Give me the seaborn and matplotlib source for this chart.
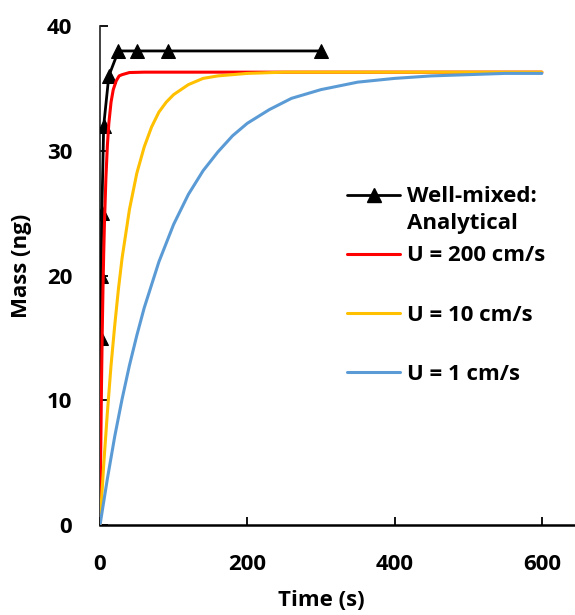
import matplotlib
matplotlib.use("Agg")
import matplotlib.pyplot as plt
import seaborn as sns
import pandas as pd
from matplotlib.lines import Line2D

# ---- data ----
t_wm = [0, 1, 1.5, 2.5, 5, 12, 25, 50, 93, 300]
m_wm = [0, 15, 20, 25, 32, 36, 38, 38, 38, 38]

t_u200 = [0, 1, 2, 3, 4, 5, 6, 8, 10, 12, 15, 18, 22, 26, 30, 40, 60, 100, 200, 300, 400, 500, 600]
m_u200 = [0, 6.0, 11.1, 15.3, 18.8, 21.7, 24.1, 27.8, 30.4, 32.2, 33.9, 34.9, 35.6, 36.0, 36.1,
          36.27, 36.3, 36.3, 36.3, 36.3, 36.3, 36.3, 36.3]

t_u10 = [0, 5, 10, 15, 20, 25, 30, 40, 50, 60, 70, 80, 90, 100, 120, 140, 160, 180, 200, 250,
         300, 400, 500, 600]
m_u10 = [0, 4.8, 9.0, 12.8, 16.0, 18.9, 21.4, 25.3, 28.2, 30.3, 31.9, 33.1, 33.9, 34.5, 35.3,
         35.8, 36.0, 36.1, 36.2, 36.3, 36.3, 36.3, 36.3, 36.3]

t_u1 = [0, 10, 20, 30, 40, 50, 60, 80, 100, 120, 140, 160, 180, 200, 230, 260, 300, 350, 400,
        450, 500, 550, 600]
m_u1 = [0, 3.7, 7.1, 10.1, 12.8, 15.2, 17.4, 21.1, 24.1, 26.5, 28.4, 29.9, 31.2, 32.2, 33.3,
        34.2, 34.9, 35.5, 35.8, 36.0, 36.1, 36.2, 36.2]

x_ticks = [0, 200, 400, 600]
y_ticks = [0, 10, 20, 30, 40]
labels = ["Well-mixed:", "Analytical", "U = 200 cm/s", "U = 10 cm/s", "U = 1 cm/s"]

# ---- style ----
sns.set_theme(style="ticks")
plt.rcParams["font.family"] = ["Open Sans", "DejaVu Sans"]
plt.rcParams["font.weight"] = "bold"
FS = 16

fig = plt.figure(figsize=(5.75, 6.15), dpi=100)
ax = fig.add_axes([100 / 575, 90 / 615, 475 / 575, 499 / 615])

df_wm = pd.DataFrame({"t": t_wm, "m": m_wm})
df_200 = pd.DataFrame({"t": t_u200, "m": m_u200})
df_10 = pd.DataFrame({"t": t_u10, "m": m_u10})
df_1 = pd.DataFrame({"t": t_u1, "m": m_u1})

sns.lineplot(data=df_wm, x="t", y="m", ax=ax, color="black", lw=2.0, marker="^",
             markersize=10.5, markeredgecolor="black", markevery=list(range(1, len(t_wm))),
             estimator=None, sort=False, zorder=3)
sns.lineplot(data=df_200, x="t", y="m", ax=ax, color="#FF0000", lw=2.2, estimator=None, zorder=4)
sns.lineplot(data=df_10, x="t", y="m", ax=ax, color="#FFC000", lw=2.2, estimator=None, zorder=5)
sns.lineplot(data=df_1, x="t", y="m", ax=ax, color="#5B9BD5", lw=2.2, estimator=None, zorder=6)

ax.set_xlim(0, 645)
ax.set_ylim(0, 40)
ax.set_xticks(x_ticks)
ax.set_yticks(y_ticks)
ax.tick_params(axis="both", direction="in", length=6, width=1.3, labelsize=FS, colors="black")
ax.tick_params(axis="y", pad=20)
ax.tick_params(axis="x", pad=21)
for lab in ax.get_xticklabels() + ax.get_yticklabels():
    lab.set_fontweight("bold")
sns.despine(ax=ax)
ax.spines["left"].set_linewidth(1.2)
ax.spines["left"].set_color("#222222")
ax.spines["bottom"].set_linewidth(1.8)
ax.spines["bottom"].set_color("black")

ax.set_xlabel("Time (s)", fontsize=FS, fontweight="bold", color="black", va="center")
ax.set_ylabel("Mass (ng)", fontsize=FS, fontweight="bold", color="black", va="center")
ax.xaxis.set_label_coords((321 - 100) / 475, (525 - 601) / 499)
ax.yaxis.set_label_coords((22 - 100) / 475, (525 - 266) / 499)

# legends
h_wm = Line2D([], [], color="black", lw=2.0, marker="^", markersize=10.5)
leg1 = ax.legend([h_wm], [labels[0]], loc="center left",
                 bbox_to_anchor=((347 - 100) / 475, (525 - 197) / 499),
                 frameon=False, borderpad=0, borderaxespad=0, handlelength=2.4,
                 handletextpad=0.32, prop={"size": FS, "weight": "bold"})
ax.add_artist(leg1)
ax.text((407 - 100) / 475, (525 - 223) / 499, labels[1], transform=ax.transAxes,
        fontsize=FS, fontweight="bold", va="center", ha="left", color="black")

hs = [Line2D([], [], color=c, lw=2.2) for c in ["#FF0000", "#FFC000", "#5B9BD5"]]
leg2 = ax.legend(hs, labels[2:], loc="center left",
                 bbox_to_anchor=((347 - 100) / 475, (525 - 315) / 499),
                 frameon=False, borderpad=0, borderaxespad=0, handlelength=2.4,
                 handletextpad=0.32, labelspacing=1.72, prop={"size": FS, "weight": "bold"})
for txt in leg1.get_texts() + leg2.get_texts():
    txt.set_color("black")

fig.savefig("out.png", dpi=100)
